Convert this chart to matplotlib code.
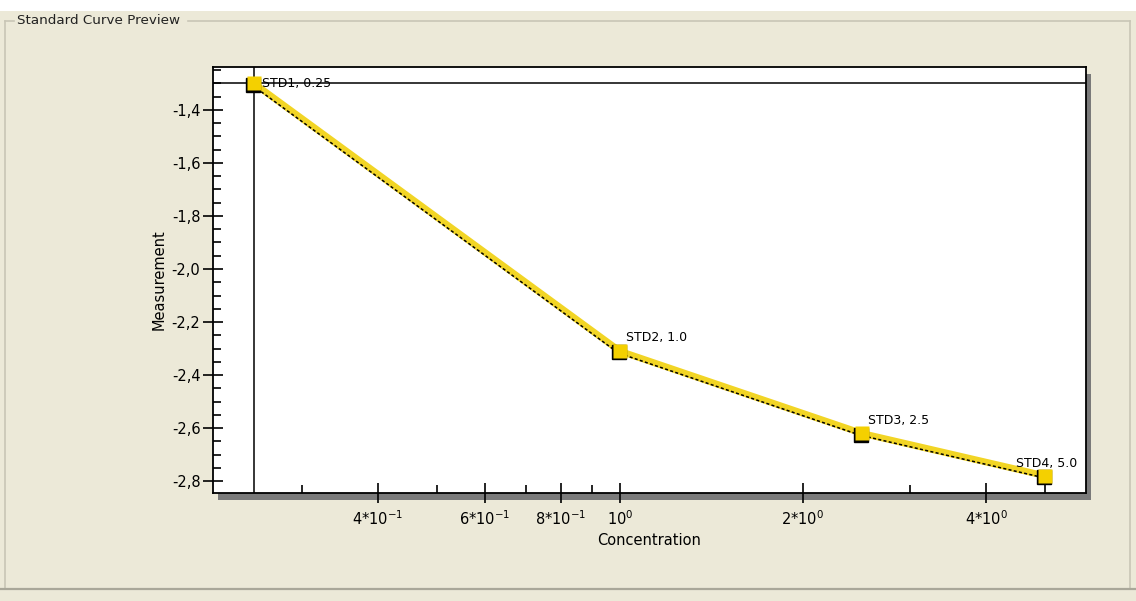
import matplotlib
matplotlib.use("Agg")
import matplotlib.pyplot as plt
import matplotlib.transforms as mtransforms
from matplotlib.patches import Rectangle
from matplotlib.lines import Line2D
from matplotlib.ticker import FixedLocator, FuncFormatter, MultipleLocator, NullFormatter

names = ["STD1", "STD2", "STD3", "STD4"]
concentration = [0.25, 1.0, 2.5, 5.0]
measurement = [-1.30, -2.31, -2.62, -2.78]

x_major = [0.4, 0.6, 0.8, 1.0, 2.0, 4.0]
x_major_labels = [r"4*10$^{-1}$", r"6*10$^{-1}$", r"8*10$^{-1}$", r"10$^{0}$", r"2*10$^{0}$", r"4*10$^{0}$"]
x_minor = [0.3, 0.5, 0.7, 0.9, 3.0, 5.0]
y_major = [-2.8, -2.6, -2.4, -2.2, -2.0, -1.8, -1.6, -1.4]

# label offsets in points (style only)
label_off = [(6, 0), (4, 10), (4, 9), (-21, 9)]

W, H = 1136, 601
beige = "#ECE9D8"
fig = plt.figure(figsize=(W / 100, H / 100), dpi=100, facecolor=beige)
plt.rcParams["font.family"] = ["DejaVu Sans"]


def fx(px):
    return px / W


def fy(py):
    return 1 - py / H


# white strip at the very top
fig.patches.append(Rectangle((0, fy(11)), 1, 11 / H, transform=fig.transFigure,
                             facecolor="white", edgecolor="none", zorder=-2))

# group box
gb = "#C9C6B6"
fig.lines.append(Line2D([fx(5), fx(14)], [fy(21), fy(21)], transform=fig.transFigure, color=gb, lw=1.2))
fig.lines.append(Line2D([fx(188), fx(1130)], [fy(21), fy(21)], transform=fig.transFigure, color=gb, lw=1.2))
fig.lines.append(Line2D([fx(1130), fx(1130)], [fy(21), fy(589)], transform=fig.transFigure, color=gb, lw=1.2))
fig.lines.append(Line2D([fx(5), fx(5)], [fy(21), fy(589)], transform=fig.transFigure, color=gb, lw=1.2))
fig.lines.append(Line2D([0, 1], [fy(589), fy(589)], transform=fig.transFigure, color="#A9A799", lw=1.6))
fig.text(fx(17), fy(21), "Standard Curve Preview", fontsize=9.7, va="center", ha="left", color="#222222")

# axes + drop shadow
left, right, top, bottom = 213, 1086, 67, 493
fig.patches.append(Rectangle((fx(left + 5), fy(bottom + 7)), (right - left) / W, (bottom - top) / H,
                             transform=fig.transFigure, facecolor="#7A7A7A", edgecolor="none", zorder=-1))
ax = fig.add_axes([fx(left), fy(bottom), (right - left) / W, (bottom - top) / H])
ax.set_zorder(1)
ax.set_facecolor("white")
ax.set_xscale("log")
ax.set_xlim(0.2141, 5.84)
ax.set_ylim(-2.845, -1.238)

for s in ax.spines.values():
    s.set_linewidth(1.3)
    s.set_color("black")

ax.xaxis.set_major_locator(FixedLocator(x_major))
ax.xaxis.set_major_formatter(FuncFormatter(lambda v, p: x_major_labels[p] if p is not None and p < len(x_major_labels) else ""))
ax.xaxis.set_minor_locator(FixedLocator(x_minor))
ax.xaxis.set_minor_formatter(NullFormatter())
ax.yaxis.set_major_locator(FixedLocator(y_major))
ax.yaxis.set_major_formatter(FuncFormatter(lambda v, p: f"{v:.1f}".replace(".", ",")))
ax.yaxis.set_minor_locator(MultipleLocator(0.05))

ax.tick_params(axis="both", which="major", direction="inout", length=14, width=1.2, labelsize=10.5, colors="black")
ax.tick_params(axis="both", which="minor", direction="in", length=6, width=1.2)
ax.tick_params(axis="x", which="major", pad=5)
ax.tick_params(axis="y", which="major", pad=2)

ax.set_xlabel("Concentration", fontsize=10.5, labelpad=3)
ax.set_ylabel("Measurement", fontsize=10.5, labelpad=4)

# crosshair on the first standard
ax.axvline(concentration[0], color="black", lw=1.1, zorder=2)
ax.axhline(measurement[0], color="black", lw=1.1, zorder=2)

# curve: thick yellow with a dotted black trace slightly offset
ax.plot(concentration, measurement, color="#F2D525", lw=4.8, solid_capstyle="round", zorder=3)
shift = mtransforms.offset_copy(ax.transData, fig=fig, x=-1.0, y=-1.4, units="points")
ax.plot(concentration, measurement, color="black", lw=1.1, ls=(0, (2, 1.5)), transform=shift, zorder=4)

# square markers with dark edge on the lower left
edge = mtransforms.offset_copy(ax.transData, fig=fig, x=-0.8, y=-0.9, units="points")
ax.plot(concentration, measurement, ls="none", marker="s", ms=10, color="black", transform=edge, zorder=5)
ax.plot(concentration, measurement, ls="none", marker="s", ms=10, color="#F4D000", mec="none", zorder=6)

for n, c, m, off in zip(names, concentration, measurement, label_off):
    ax.annotate(f"{n}, {c}", (c, m), xytext=off, textcoords="offset points",
                fontsize=9, ha="left", va="center", zorder=7)

fig.savefig("out.png", dpi=100, facecolor=beige)
